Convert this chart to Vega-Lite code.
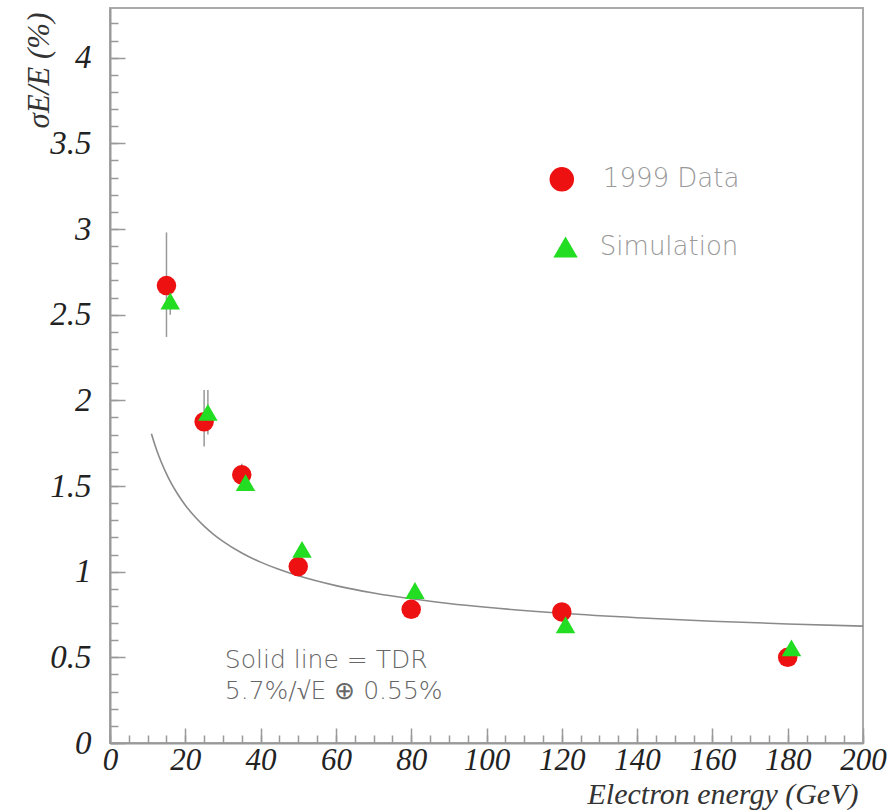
{
  "$schema": "https://vega.github.io/schema/vega-lite/v6.json",
  "width": 753,
  "height": 735,
  "autosize": {"type": "none"},
  "padding": {"left": 110, "top": 8, "right": 31, "bottom": 67},
  "background": "white",
  "config": {
    "view": {"stroke": "#aaaaaa", "strokeWidth": 2},
    "axis": {
      "grid": false,
      "domainColor": "#999999",
      "domainWidth": 2,
      "tickColor": "#999999",
      "tickWidth": 1.5,
      "labelFont": "Liberation Serif",
      "labelFontStyle": "italic",
      "labelFontSize": 33,
      "labelColor": "#222222",
      "labelOverlap": false,
      "titleFont": "Liberation Serif",
      "titleFontStyle": "italic",
      "titleFontWeight": "normal",
      "titleColor": "#333333"
    }
  },
  "datasets": {
    "curve": [
      {"E": 11, "v": 1.8045}, {"E": 12, "v": 1.7349}, {"E": 13, "v": 1.6738}, {"E": 14, "v": 1.6196},
      {"E": 15, "v": 1.5711}, {"E": 16, "v": 1.5275}, {"E": 18, "v": 1.4517}, {"E": 20, "v": 1.3882},
      {"E": 22.5, "v": 1.3216}, {"E": 25, "v": 1.2657}, {"E": 27.5, "v": 1.2182}, {"E": 30, "v": 1.1771},
      {"E": 35, "v": 1.1094}, {"E": 40, "v": 1.0558}, {"E": 45, "v": 1.0122}, {"E": 50, "v": 0.9759},
      {"E": 60, "v": 0.9187}, {"E": 70, "v": 0.8756}, {"E": 80, "v": 0.8418}, {"E": 90, "v": 0.8146},
      {"E": 100, "v": 0.7921}, {"E": 120, "v": 0.7571}, {"E": 140, "v": 0.7311}, {"E": 160, "v": 0.7110},
      {"E": 180, "v": 0.6950}, {"E": 200, "v": 0.6819}
    ],
    "points": [
      {"series": "1999 Data", "E": 15, "v": 2.67, "lo": 2.37, "hi": 2.98},
      {"series": "1999 Data", "E": 25, "v": 1.875, "lo": 1.73, "hi": 2.06},
      {"series": "1999 Data", "E": 35, "v": 1.565, "lo": 1.5, "hi": 1.63},
      {"series": "1999 Data", "E": 50, "v": 1.03, "lo": 0.98, "hi": 1.08},
      {"series": "1999 Data", "E": 80, "v": 0.78, "lo": 0.74, "hi": 0.82},
      {"series": "1999 Data", "E": 120, "v": 0.765, "lo": 0.73, "hi": 0.8},
      {"series": "1999 Data", "E": 180, "v": 0.5, "lo": 0.47, "hi": 0.53},
      {"series": "Simulation", "E": 16, "v": 2.58, "lo": 2.5, "hi": 2.66},
      {"series": "Simulation", "E": 26, "v": 1.93, "lo": 1.8, "hi": 2.06},
      {"series": "Simulation", "E": 36, "v": 1.52, "lo": 1.48, "hi": 1.56},
      {"series": "Simulation", "E": 51, "v": 1.13, "lo": 1.1, "hi": 1.16},
      {"series": "Simulation", "E": 81, "v": 0.89, "lo": 0.86, "hi": 0.92},
      {"series": "Simulation", "E": 121, "v": 0.69, "lo": 0.66, "hi": 0.72},
      {"series": "Simulation", "E": 181, "v": 0.555, "lo": 0.53, "hi": 0.58}
    ],
    "legend": [
      {"series": "1999 Data", "sx": 120, "tx": 130.9, "y": 3.29},
      {"series": "Simulation", "sx": 121, "tx": 130.1, "y": 2.895}
    ],
    "note": [
      {"label": "Solid line = TDR", "x": 30.5, "y": 0.44},
      {"label": "5.7%/√E ⊕ 0.55%", "x": 30.5, "y": 0.255}
    ]
  },
  "resolve": {"axis": {"x": "independent", "y": "independent"}},
  "layer": [
    {
      "data": {"name": "curve"},
      "mark": {"type": "line", "color": "#8a8a8a", "strokeWidth": 1.6, "interpolate": "monotone"},
      "encoding": {
        "x": {
          "field": "E", "type": "quantitative",
          "scale": {"domain": [0, 200], "nice": false, "zero": false},
          "axis": {
            "orient": "bottom",
            "values": [0, 20, 40, 60, 80, 100, 120, 140, 160, 180, 200],
            "format": "d",
            "tickSize": -15,
            "labelPadding": 17,
            "labelFontSize": 31,
            "labelFlush": false,
            "title": "Electron energy (GeV)",
            "titleFontSize": 30,
            "titleAnchor": "end",
            "titleAlign": "right",
            "titleBaseline": "alphabetic",
            "titleX": 748,
            "titleY": 60
          }
        },
        "y": {
          "field": "v", "type": "quantitative",
          "scale": {"domain": [0, 4.29], "nice": false, "zero": false},
          "axis": {
            "orient": "left",
            "values": [0, 0.5, 1, 1.5, 2, 2.5, 3, 3.5, 4],
            "format": "~g",
            "tickSize": -15,
            "labelPadding": 34,
            "labelFlush": false,
            "title": "σE/E (%)",
            "titleFontSize": 31,
            "titleAngle": -90,
            "titleAnchor": "end",
            "titleAlign": "right",
            "titleBaseline": "alphabetic",
            "titleX": -62,
            "titleY": 4
          }
        }
      }
    },
    {
      "data": {"name": "curve"},
      "mark": {"type": "point", "opacity": 0},
      "encoding": {
        "x": {
          "field": "E", "type": "quantitative",
          "axis": {
            "orient": "bottom",
            "values": [0, 5, 10, 15, 20, 25, 30, 35, 40, 45, 50, 55, 60, 65, 70, 75, 80, 85, 90, 95, 100, 105, 110, 115, 120, 125, 130, 135, 140, 145, 150, 155, 160, 165, 170, 175, 180, 185, 190, 195, 200],
            "tickSize": -8,
            "labels": false,
            "domain": false,
            "title": null
          }
        },
        "y": {
          "field": "v", "type": "quantitative",
          "axis": {
            "orient": "left",
            "values": [0, 0.1, 0.2, 0.3, 0.4, 0.5, 0.6, 0.7, 0.8, 0.9, 1, 1.1, 1.2, 1.3, 1.4, 1.5, 1.6, 1.7, 1.8, 1.9, 2, 2.1, 2.2, 2.3, 2.4, 2.5, 2.6, 2.7, 2.8, 2.9, 3, 3.1, 3.2, 3.3, 3.4, 3.5, 3.6, 3.7, 3.8, 3.9, 4, 4.1, 4.2],
            "tickSize": -8,
            "labels": false,
            "domain": false,
            "title": null
          }
        }
      }
    },
    {
      "data": {"name": "points"},
      "mark": {"type": "rule", "color": "#999999", "strokeWidth": 1.5},
      "encoding": {
        "x": {"field": "E", "type": "quantitative", "axis": null},
        "y": {"field": "lo", "type": "quantitative", "axis": null},
        "y2": {"field": "hi"}
      }
    },
    {
      "data": {"name": "points"},
      "mark": {"type": "point", "filled": true, "opacity": 1, "size": 380, "strokeWidth": 1},
      "encoding": {
        "x": {"field": "E", "type": "quantitative", "axis": null},
        "y": {"field": "v", "type": "quantitative", "axis": null},
        "shape": {"field": "series", "type": "nominal", "legend": null,
          "scale": {"domain": ["1999 Data", "Simulation"], "range": ["circle", "triangle-up"]}},
        "color": {"field": "series", "type": "nominal", "legend": null,
          "scale": {"domain": ["1999 Data", "Simulation"], "range": ["#ee1111", "#22dd22"]}}
      }
    },
    {
      "data": {"name": "legend"},
      "mark": {"type": "point", "filled": true, "opacity": 1, "size": 600},
      "encoding": {
        "x": {"field": "sx", "type": "quantitative", "axis": null},
        "y": {"field": "y", "type": "quantitative", "axis": null},
        "shape": {"field": "series", "type": "nominal", "legend": null},
        "color": {"field": "series", "type": "nominal", "legend": null}
      }
    },
    {
      "data": {"name": "legend"},
      "mark": {"type": "text", "align": "left", "baseline": "middle", "font": "DejaVu Sans", "fontSize": 26, "fontWeight": 300, "color": "#999999"},
      "encoding": {
        "x": {"field": "tx", "type": "quantitative", "axis": null},
        "y": {"field": "y", "type": "quantitative", "axis": null},
        "text": {"field": "series"}
      }
    },
    {
      "data": {"name": "note"},
      "mark": {"type": "text", "align": "left", "baseline": "alphabetic", "font": "DejaVu Sans", "fontSize": 25, "fontWeight": 300, "color": "#666666"},
      "encoding": {
        "x": {"field": "x", "type": "quantitative", "axis": null},
        "y": {"field": "y", "type": "quantitative", "axis": null},
        "text": {"field": "label"}
      }
    }
  ]
}
